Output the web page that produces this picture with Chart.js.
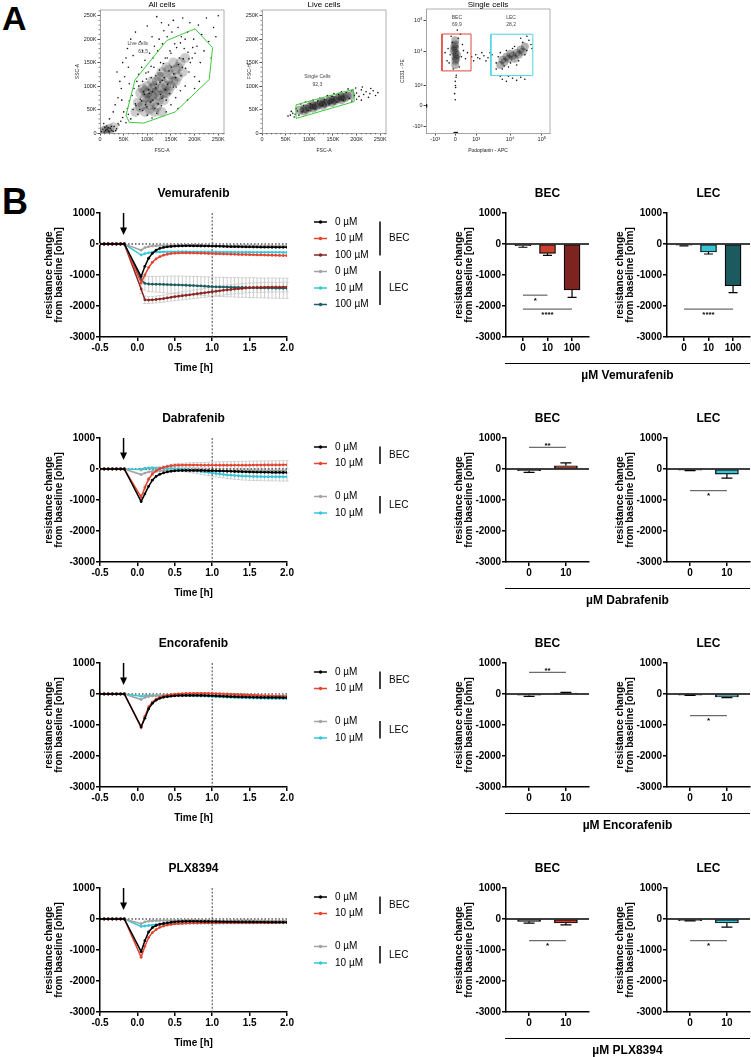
<!DOCTYPE html>
<html><head><meta charset="utf-8">
<script src="https://cdn.jsdelivr.net/npm/chart.js@4.4.1/dist/chart.umd.min.js"></script>
<style>
html,body{margin:0;padding:0;background:#fff;}
#root{position:relative;width:751px;height:1057px;overflow:hidden;background:#fff;font-family:"Liberation Sans",Arial,Helvetica,sans-serif;color:#000;}
.lbl{position:absolute;font-weight:bold;line-height:1;}
.cap{position:absolute;left:505px;width:245px;text-align:center;font-weight:bold;font-size:12px;line-height:14px;}
.capline{position:absolute;left:505px;width:245px;height:0;border-top:1.5px solid #000;}
</style></head><body><div id="root">
<div class="lbl" style="left:2px;top:1px;font-size:34px;">A</div>
<div class="lbl" style="left:2px;top:184px;font-size:36px;">B</div>
</div>
<script>
const FONT = '"Liberation Sans", Arial, Helvetica, sans-serif';

/* ================= Panel B data ================= */
const TIME = [-0.5,-0.445,-0.39,-0.335,-0.28,-0.225,-0.175,
  0.05,0.1,0.15,0.2,0.25,0.3,0.35,0.4,0.45,0.5,0.55,0.6,0.65,0.7,0.75,0.8,0.85,0.9,0.95,1.0,
  1.05,1.1,1.15,1.2,1.25,1.3,1.35,1.4,1.45,1.5,1.55,1.6,1.65,1.7,1.75,1.8,1.85,1.9,1.95,2.0];
const X_TICKS = [-0.5,0,0.5,1,1.5,2];
const Y_TICKS = [1000,0,-1000,-2000,-3000];
const ARROW_T = -0.185;
const Y_TITLE = ['resistance change','from baseline [ohm]'];
const GROUPS = ['BEC','LEC'];
const CONC_3 = ['0 µM','10 µM','100 µM'];
const CONC_2 = ['0 µM','10 µM'];

// Vemurafenib
const VEM_BEC_0 = [0,0,0,0,0,0,0,-1050,-720,-460,-300,-200,-140,-110,-90,-80,-70,-65,-62,-60,-60,-61,-62,-64,-66,-68,-70,-73,-76,-79,-82,-85,-87,-89,-91,-93,-95,-97,-99,-101,-103,-104,-105,-106,-107,-108,-108];
const VEM_BEC_10 = [0,0,0,0,0,0,0,-1250,-1000,-760,-590,-480,-410,-360,-330,-310,-300,-292,-288,-288,-290,-292,-295,-298,-302,-306,-310,-314,-318,-322,-326,-330,-333,-336,-339,-342,-345,-348,-351,-354,-357,-360,-363,-366,-369,-372,-375];
const VEM_BEC_100 = [0,0,0,0,0,0,0,-1450,-1800,-1810,-1800,-1790,-1775,-1760,-1740,-1720,-1700,-1685,-1670,-1655,-1640,-1622,-1605,-1590,-1575,-1558,-1540,-1525,-1510,-1495,-1480,-1467,-1455,-1443,-1432,-1420,-1410,-1406,-1403,-1400,-1398,-1396,-1394,-1393,-1392,-1391,-1390];
const VEM_LEC_0 = [0,0,0,0,0,0,0,-200,-120,-85,-65,-55,-50,-48,-46,-45,-45,-45,-46,-47,-48,-49,-50,-51,-52,-53,-54,-55,-56,-57,-58,-58,-59,-60,-60,-61,-61,-62,-62,-63,-63,-64,-64,-65,-65,-66,-66];
const VEM_LEC_10 = [0,0,0,0,0,0,0,-355,-310,-285,-270,-262,-258,-255,-253,-252,-251,-250,-250,-250,-251,-252,-253,-254,-255,-256,-257,-258,-259,-260,-261,-262,-263,-264,-265,-266,-266,-267,-267,-268,-268,-269,-269,-270,-270,-271,-271];
const VEM_LEC_100 = [0,0,0,0,0,0,0,-1150,-1270,-1290,-1295,-1300,-1302,-1305,-1308,-1312,-1316,-1320,-1325,-1330,-1336,-1342,-1348,-1354,-1360,-1368,-1376,-1380,-1384,-1388,-1392,-1395,-1398,-1401,-1404,-1407,-1410,-1412,-1414,-1416,-1418,-1420,-1422,-1424,-1426,-1428,-1430];
const VEM_BEC_100_SD = [10,10,10,10,10,10,10,150,120,110,110,110,115,115,120,120,125,125,130,130,135,135,140,140,145,145,150,150,150,152,152,154,154,155,155,156,156,157,157,158,158,158,158,158,158,158,158];
const VEM_LEC_100_SD = [10,10,10,10,10,10,10,150,220,240,250,255,260,265,270,275,280,285,290,290,295,295,300,300,300,305,305,305,310,310,310,310,315,315,315,315,320,320,320,320,320,325,325,325,325,325,325];

// Dabrafenib
const DAB_BEC_0 = [0,0,0,0,0,0,0,-1050,-800,-560,-360,-240,-170,-125,-95,-75,-60,-52,-48,-46,-45,-45,-46,-48,-50,-53,-56,-60,-64,-68,-72,-76,-80,-84,-88,-92,-96,-99,-102,-104,-106,-108,-110,-111,-112,-113,-114];
const DAB_BEC_10 = [0,0,0,0,0,0,0,-910,-600,-330,-160,-60,10,55,85,105,118,124,127,128,128,127,126,125,124,123,122,122,121,121,121,121,122,122,123,124,125,126,127,128,129,130,131,132,133,134,135];
const DAB_LEC_0 = [0,0,0,0,0,0,0,-180,-130,-95,-75,-65,-58,-54,-52,-50,-50,-50,-50,-51,-52,-53,-54,-55,-56,-57,-58,-59,-60,-60,-61,-61,-62,-62,-62,-61,-61,-60,-60,-59,-59,-58,-58,-57,-57,-56,-56];
const DAB_LEC_10 = [0,0,0,0,0,0,0,-20,20,30,32,30,28,25,20,15,8,0,-10,-22,-35,-50,-65,-80,-95,-112,-130,-145,-160,-175,-190,-200,-210,-218,-225,-231,-236,-240,-243,-245,-247,-248,-249,-250,-250,-251,-251];
const DAB_BEC_10_SD = [10,10,10,10,10,10,10,90,80,60,50,45,40,40,40,45,50,55,60,65,70,75,80,85,90,95,100,105,110,112,115,118,120,122,124,126,128,130,130,132,132,134,134,135,135,136,136];
const DAB_LEC_10_SD = [10,10,10,10,10,10,10,40,35,35,35,35,40,40,45,50,55,60,65,70,75,80,85,90,95,100,105,110,112,115,118,120,122,124,126,128,130,130,131,132,133,134,135,135,136,136,137];

// Encorafenib
const ENC_BEC_0 = [0,0,0,0,0,0,0,-1060,-780,-480,-300,-200,-140,-105,-85,-70,-58,-52,-48,-46,-45,-45,-46,-48,-51,-55,-60,-65,-70,-75,-80,-85,-89,-93,-97,-100,-103,-106,-108,-110,-112,-113,-114,-115,-116,-117,-118];
const ENC_BEC_10 = [0,0,0,0,0,0,0,-1080,-720,-420,-260,-165,-105,-65,-38,-18,-5,5,12,17,20,22,22,22,21,20,18,14,10,5,0,-6,-12,-18,-24,-30,-36,-42,-48,-53,-58,-63,-68,-72,-76,-80,-84];
const ENC_LEC_0 = [0,0,0,0,0,0,0,-180,-110,-80,-65,-58,-54,-52,-50,-49,-48,-47,-46,-45,-45,-45,-45,-46,-46,-47,-47,-48,-48,-49,-49,-50,-50,-51,-51,-52,-52,-53,-53,-54,-54,-55,-55,-56,-56,-57,-57];
const ENC_LEC_10 = [0,0,0,0,0,0,0,-75,-62,-55,-50,-47,-45,-44,-43,-43,-44,-45,-47,-50,-53,-57,-61,-65,-70,-75,-80,-86,-92,-97,-102,-107,-112,-116,-120,-124,-128,-131,-134,-137,-140,-142,-144,-146,-148,-149,-150];

// PLX8394
const PLX_BEC_0 = [0,0,0,0,0,0,0,-1050,-700,-420,-280,-210,-170,-145,-125,-105,-90,-82,-78,-76,-75,-75,-76,-77,-78,-80,-82,-84,-86,-88,-90,-91,-92,-93,-94,-95,-96,-97,-98,-99,-100,-101,-102,-103,-104,-105,-106];
const PLX_BEC_10 = [0,0,0,0,0,0,0,-1230,-880,-600,-440,-340,-270,-225,-195,-175,-160,-150,-143,-138,-134,-131,-129,-128,-127,-126,-125,-125,-124,-124,-123,-123,-122,-122,-121,-121,-120,-120,-119,-119,-118,-118,-117,-117,-116,-116,-115];
const PLX_LEC_0 = [0,0,0,0,0,0,0,-150,-95,-70,-60,-55,-52,-50,-49,-48,-48,-48,-48,-49,-49,-50,-50,-51,-51,-52,-52,-53,-53,-54,-54,-55,-55,-56,-56,-57,-57,-58,-58,-59,-59,-60,-60,-61,-61,-62,-62];
const PLX_LEC_10 = [0,0,0,0,0,0,0,-240,-225,-210,-195,-180,-168,-158,-150,-145,-141,-138,-136,-134,-133,-132,-132,-131,-131,-130,-130,-130,-129,-129,-128,-128,-127,-127,-126,-126,-125,-125,-124,-124,-123,-123,-122,-122,-121,-121,-120];

// Bar charts (mean, SD)
const CATS_3 = ['0','10','100'];
const CATS_2 = ['0','10'];
const VEM_BEC_BAR = [-55,-300,-1485], VEM_BEC_ERR = [50,65,235];
const VEM_LEC_BAR = [-40,-258,-1345], VEM_LEC_ERR = [22,64,225];
const DAB_BEC_BAR = [-55,105], DAB_BEC_ERR = [55,90];
const DAB_LEC_BAR = [-40,-165], DAB_LEC_ERR = [12,130];
const ENC_BEC_BAR = [-40,30], ENC_BEC_ERR = [35,25];
const ENC_LEC_BAR = [-35,-95], ENC_LEC_ERR = [12,25];
const PLX_BEC_BAR = [-75,-130], PLX_BEC_ERR = [55,60];
const PLX_LEC_BAR = [-50,-130], PLX_LEC_ERR = [10,130];
const VEM_BEC_SIG = [{a:0,b:1,y:-1650,t:'*',pos:'below'},{a:0,b:2,y:-2100,t:'****',pos:'below'}];
const VEM_LEC_SIG = [{a:0,b:2,y:-2100,t:'****',pos:'below'}];
const DAB_BEC_SIG = [{a:0,b:1,y:700,t:'**',pos:'above'}];
const DAB_LEC_SIG = [{a:0,b:1,y:-700,t:'*',pos:'below'}];
const ENC_BEC_SIG = [{a:0,b:1,y:700,t:'**',pos:'above'}];
const ENC_LEC_SIG = [{a:0,b:1,y:-700,t:'*',pos:'below'}];
const PLX_BEC_SIG = [{a:0,b:1,y:-700,t:'*',pos:'below'}];
const PLX_LEC_SIG = [{a:0,b:1,y:-700,t:'*',pos:'below'}];

const LINE_COLORS = {BEC:['#000000','#e5432f','#8a2622'], LEC:['#a3a3a3','#35c6da','#1d5d62']};
const BAR_FILL = {BEC:['#454545','#c9412e','#7d2420'], LEC:['#9e9e9e','#38c2d3','#1b5a5f']};

const ROWS = [
  {title:'Vemurafenib', caption:'µM Vemurafenib', labels:CONC_3, cats:CATS_3,
   series:{BEC:[VEM_BEC_0,VEM_BEC_10,VEM_BEC_100], LEC:[VEM_LEC_0,VEM_LEC_10,VEM_LEC_100]},
   sd:{BEC:[null,null,VEM_BEC_100_SD], LEC:[null,null,VEM_LEC_100_SD]},
   bars:{BEC:[VEM_BEC_BAR,VEM_BEC_ERR,VEM_BEC_SIG], LEC:[VEM_LEC_BAR,VEM_LEC_ERR,VEM_LEC_SIG]}},
  {title:'Dabrafenib', caption:'µM Dabrafenib', labels:CONC_2, cats:CATS_2,
   series:{BEC:[DAB_BEC_0,DAB_BEC_10], LEC:[DAB_LEC_0,DAB_LEC_10]},
   sd:{BEC:[null,DAB_BEC_10_SD], LEC:[null,DAB_LEC_10_SD]},
   bars:{BEC:[DAB_BEC_BAR,DAB_BEC_ERR,DAB_BEC_SIG], LEC:[DAB_LEC_BAR,DAB_LEC_ERR,DAB_LEC_SIG]}},
  {title:'Encorafenib', caption:'µM Encorafenib', labels:CONC_2, cats:CATS_2,
   series:{BEC:[ENC_BEC_0,ENC_BEC_10], LEC:[ENC_LEC_0,ENC_LEC_10]},
   sd:{BEC:[null,null], LEC:[null,null]},
   bars:{BEC:[ENC_BEC_BAR,ENC_BEC_ERR,ENC_BEC_SIG], LEC:[ENC_LEC_BAR,ENC_LEC_ERR,ENC_LEC_SIG]}},
  {title:'PLX8394', caption:'µM PLX8394', labels:CONC_2, cats:CATS_2,
   series:{BEC:[PLX_BEC_0,PLX_BEC_10], LEC:[PLX_LEC_0,PLX_LEC_10]},
   sd:{BEC:[null,null], LEC:[null,null]},
   bars:{BEC:[PLX_BEC_BAR,PLX_BEC_ERR,PLX_BEC_SIG], LEC:[PLX_LEC_BAR,PLX_LEC_ERR,PLX_LEC_SIG]}}
];

/* ================= Panel A data (flow cytometry) ================= */
const LIN_TICKS = [0,50,100,150,200,250];
const LIN_LABELS = ['0','50K','100K','150K','200K','250K'];
const BIEX_X_TICKS = [-0.98,0,1.02,2.68,4.23];
const BIEX_Y_TICKS = [-1.02,0,1.02,2.65,4.16];
const BIEX_LABELS = ['-10³','0','10³','10⁴','10⁵'];

const FLOW1_EVENTS = [[3,3],[6,8],[9,2],[10,12],[12,5],[14,15],[15,8],[17,11],[18,4],[20,2],[22,10],[24,14],[25,6],[28,3],[30,14],[33,5],[35,9],[38,20],[40,17],[44,25],[48,33],[50,45],[55,22],[58,52],[60,40],[62,68],[65,30],[68,80],[70,50],[72,95],[75,62],[78,110],[80,40],[82,125],[85,72],[88,140],[90,48],[92,88],[95,155],[98,115],[100,38],[102,130],[105,170],[108,142],[110,32],[112,160],[115,185],[118,122],[120,42],[122,175],[125,200],[128,150],[130,58],[132,190],[135,218],[138,160],[140,45],[142,205],[145,230],[148,175],[150,60],[152,215],[155,240],[158,190],[160,75],[165,225],[168,160],[170,90],[172,205],[175,245],[178,180],[180,100],[185,215],[188,130],[190,235],[195,160],[198,200],[200,120],[205,185],[208,230],[212,150],[215,210],[220,175],[225,245],[230,195],[235,160],[240,225],[245,205],[250,250],[52,120],[45,95],[38,75],[32,60],[60,140],[48,150],[70,165],[58,180],[85,195],[75,215],[100,228],[120,248],[165,52],[185,70],[200,95],[210,110],[140,70],[155,98],[128,82],[112,70],[96,60],[132,112],[146,132],[118,96],[104,84],[160,118],[174,140],[188,158],
  [76,58],[84,50],[88,68],[94,82],[99,56],[103,92],[107,66],[111,88],[116,52],[119,104],[123,62],[127,108],[131,74],[136,118],[139,92],[143,104],[147,84],[151,140],[156,126],[161,98],[166,146],[171,122],[176,158],[181,138],[186,172],[191,150],[196,182],[201,170],[82,100],[90,110],[97,128],[108,118],[114,140],[126,134],[134,148],[142,160],[150,170],[162,182],[170,192],[180,200],
  [42,110],[36,130],[55,160],[65,200],[90,175],[110,205],[130,235],[62,105],[46,70],[28,45],[20,30],[8,20]];
const FLOW1_DENSE = [[100,70],[110,80],[120,90],[105,60],[95,75],[115,65],[125,80],[130,95],[135,105],[140,100],[110,95],[100,85],[90,60],[120,110],[145,115],[150,125],[130,120],[160,135],[115,100],[85,55],[125,70],[140,85],[155,110],[170,150],[165,140],[105,50],
  [75,45],[80,65],[85,85],[90,95],[95,45],[100,100],[110,110],[115,45],[120,55],[125,120],[130,130],[135,70],[140,140],[145,90],[150,100],[155,150],[160,110],[165,120],[175,130],[180,160],[145,135],[135,85],[95,90],[130,45],[115,85],[105,75],
  [12,6],[20,9],[8,4],[28,12],[16,3]];
const FLOW1_GATE = [[62,23],[92,21],[159,45],[231,114],[238,182],[201,222],[141,197],[74,113],[55,38],[62,23]];

const FLOW2_EVENTS = [[60,38],[65,42],[70,40],[55,36],[75,47],[72,52],[85,45],[88,58],[98,48],[102,62],[112,52],[118,68],[128,58],[132,72],[142,62],[148,78],[158,66],[162,82],[172,70],[178,86],[185,74],[190,90],[195,80],[200,85],[205,78],[210,92],[215,82],[220,88],[228,84],[235,90],[240,80],[200,72],[190,68],[210,70],[225,76],[68,34],[78,38],[62,46],[82,62],[92,66],[108,70],[122,74],[138,80],[152,84],[168,88],[182,94],[198,96],[212,98],[230,95],[245,86]];
const FLOW2_DENSE = [[80,49],[90,52],[100,55],[110,58],[120,61],[130,64],[140,67],[150,70],[160,73],[170,76],[180,79],[95,50],[115,57],[135,63],[155,69],[175,75],[105,60],[125,66],[145,72],[165,78],[88,47],[108,53],[128,59],[148,65],[168,71],[188,80]];
const FLOW2_GATE = [[72,60],[193,93],[195,67],[72,31],[72,60]];

const FLOW3_EVENTS = [[-0.3,2.1],[0.3,2.4],[-0.35,2.8],[0.35,3.0],[-0.2,3.4],[0.25,3.5],[0.1,3.7],[-0.1,1.8],[0.2,1.9],[-0.25,2.5],[0.4,2.7],[-0.4,2.2],[0.15,3.3],[-0.15,3.1],[0.5,2.3],[0.6,2.6],[-0.5,2.6],[0.05,1.5],[0,1.2],[0.02,0.9],[-0.03,0.6],[0,0.3],[0.01,1.0],[0.04,1.4],
  [0.8,2.4],[1.0,2.5],[1.2,2.3],[1.4,2.45],[1.6,2.35],[1.8,2.5],[0.9,2.2],[1.3,2.6],[1.5,2.2],[1.7,2.6],[1.1,2.35],
  [2.0,1.8],[2.1,2.4],[2.3,1.8],[2.5,2.7],[2.7,2.1],[2.9,2.9],[3.1,2.2],[3.3,3.1],[3.5,2.7],[3.6,3.2],[3.7,3.0],[2.0,2.1],[2.6,1.9],[3.0,2.0],[3.4,2.5],[2.2,2.6],[2.8,2.8],[3.2,3.3],[3.5,3.4],[2.4,1.95],[3.75,2.8],
  [2.3,1.3],[2.5,1.2],[2.8,1.35],[3.0,1.25],[3.2,1.4],[2.6,1.45],[3.4,1.3],[2.2,1.45],
  [0,-1.3],[0.05,-1.3],[-0.05,-1.3],[0.1,-1.3],[-1.4,0],[-1.4,0.05],[-1.4,-0.05]];
const FLOW3_DENSE = [[0,2.0],[0,2.2],[0,2.4],[0,2.6],[0,2.8],[0,3.0],[0,3.2],[0.08,2.5],[-0.08,2.7],[0.05,2.3],[-0.05,2.9],
  [2.2,2.0],[2.4,2.15],[2.6,2.3],[2.8,2.45],[3.0,2.6],[3.2,2.75],[3.4,2.9],[2.5,2.4],[2.9,2.3],[2.7,2.55],[3.1,2.5],[2.3,2.25],[3.3,2.65]];
const FLOW3_BEC_GATE = [[-0.65,1.71],[0.77,1.71],[0.77,3.51],[-0.65,3.51],[-0.65,1.71]];
const FLOW3_LEC_GATE = [[1.74,1.48],[3.79,1.48],[3.79,3.5],[1.74,3.5],[1.74,1.48]];

/* ================= helpers ================= */
const root = document.getElementById('root');
function makeCanvas(x, y, w, h) {
  const c = document.createElement('canvas');
  c.width = w; c.height = h;
  c.style.cssText = `position:absolute;left:${x}px;top:${y}px;width:${w}px;height:${h}px;`;
  root.appendChild(c);
  return c;
}
function yTitle(ctx, xs, cy) {
  ctx.save();
  ctx.font = `bold 10px ${FONT}`; ctx.fillStyle = '#000'; ctx.textAlign = 'center'; ctx.textBaseline = 'middle';
  Y_TITLE.forEach((t, i) => { ctx.save(); ctx.translate(xs[i], cy); ctx.rotate(-Math.PI/2); ctx.fillText(t, 0, 0); ctx.restore(); });
  ctx.restore();
}
function valueY(wid) {
  return {type:'linear', min:-3000, max:1000,
    afterBuildTicks: s => { s.ticks = Y_TICKS.map(v => ({value:v})); },
    afterFit: s => { s.width = wid; },
    border:{display:true, color:'#000', width:1.5},
    grid:{drawOnChartArea:false, tickLength:4, color:'#000', lineWidth:1.5},
    ticks:{color:'#000', font:{family:FONT, size:10, weight:'bold'}, padding:1, callback: v => String(v)}};
}

/* ================= line charts ================= */
function lineChart(k, row) {
  const T0 = 180 + 225*k, W = 420, H = 200;
  const cv = makeCanvas(0, T0, W, H);
  const top = 213 + 225*k - T0, bottom = 337 + 225*k - T0;
  const datasets = [];
  GROUPS.forEach(g => row.series[g].forEach((vals, i) => {
    datasets.push({label:row.labels[i], group:g,
      data: TIME.map((t, j) => ({x:t, y:vals[j]})),
      sd: row.sd[g][i],
      borderColor:LINE_COLORS[g][i], backgroundColor:LINE_COLORS[g][i], pointBackgroundColor:LINE_COLORS[g][i],
      pointBorderWidth:0, borderWidth:1.5, pointRadius:1.4, tension:0});
  }));
  const decor = {
    id:'lineDecor',
    beforeDatasetsDraw(chart) {
      const {ctx, chartArea:a, scales:{x, y}} = chart;
      ctx.save();
      ctx.strokeStyle = '#cdcdcd'; ctx.lineWidth = 1;
      chart.data.datasets.forEach(ds => {
        if (!ds.sd) return;
        ds.data.forEach((p, i) => {
          const s = ds.sd[i]; if (!s) return;
          const px = x.getPixelForValue(p.x), y1 = y.getPixelForValue(p.y + s), y2 = y.getPixelForValue(p.y - s);
          ctx.beginPath(); ctx.moveTo(px, y1); ctx.lineTo(px, y2);
          ctx.moveTo(px-1.6, y1); ctx.lineTo(px+1.6, y1); ctx.moveTo(px-1.6, y2); ctx.lineTo(px+1.6, y2); ctx.stroke();
        });
      });
      const y0 = y.getPixelForValue(0);
      ctx.setLineDash([1.5, 2]); ctx.strokeStyle = '#000'; ctx.lineWidth = 1.2;
      ctx.beginPath(); ctx.moveTo(a.left, y0); ctx.lineTo(a.right, y0); ctx.stroke();
      const x1 = x.getPixelForValue(1);
      ctx.setLineDash([2, 1.6]); ctx.strokeStyle = '#444'; ctx.lineWidth = 1;
      ctx.beginPath(); ctx.moveTo(x1, a.top); ctx.lineTo(x1, a.bottom); ctx.stroke();
      ctx.restore();
    },
    afterDraw(chart) {
      const {ctx, chartArea:a, scales:{x, y}} = chart;
      ctx.save();
      ctx.fillStyle = '#000'; ctx.textAlign = 'center'; ctx.textBaseline = 'middle';
      ctx.font = `bold 12px ${FONT}`;
      ctx.fillText(row.title, (a.left + a.right)/2, 193.3 + 225*k - T0);
      ctx.font = `bold 10px ${FONT}`;
      ctx.fillText('Time [h]', (a.left + a.right)/2, 368.5 + 225*k - T0);
      const ax = x.getPixelForValue(ARROW_T), at = y.getPixelForValue(1000), tip = y.getPixelForValue(290);
      ctx.strokeStyle = '#000'; ctx.lineWidth = 1.5;
      ctx.beginPath(); ctx.moveTo(ax, at); ctx.lineTo(ax, tip - 5); ctx.stroke();
      ctx.beginPath(); ctx.moveTo(ax - 3.5, tip - 7.5); ctx.lineTo(ax + 3.5, tip - 7.5); ctx.lineTo(ax, tip); ctx.closePath(); ctx.fill();
      const base = 222 + 225*k - T0;
      GROUPS.forEach((g, gi) => {
        const list = chart.data.datasets.filter(d => d.group === g);
        const ys = list.map((d, i) => base + gi*49.5 + i*16.5);
        list.forEach((d, i) => {
          ctx.strokeStyle = d.borderColor; ctx.lineWidth = 1.5;
          ctx.beginPath(); ctx.moveTo(314, ys[i]); ctx.lineTo(327, ys[i]); ctx.stroke();
          ctx.fillStyle = d.borderColor; ctx.beginPath(); ctx.arc(320.5, ys[i], 1.7, 0, 2*Math.PI); ctx.fill();
          ctx.fillStyle = '#000'; ctx.font = `10px ${FONT}`; ctx.textAlign = 'left'; ctx.textBaseline = 'middle';
          ctx.fillText(d.label, 335, ys[i]);
        });
        ctx.strokeStyle = '#000'; ctx.lineWidth = 1.5;
        ctx.beginPath(); ctx.moveTo(380, ys[0] - 0.5); ctx.lineTo(380, ys[ys.length-1] + 0.5); ctx.stroke();
        ctx.fillText(g, 389, (ys[0] + ys[ys.length-1])/2);
      });
      ctx.restore();
      yTitle(ctx, [49, 59], (a.top + a.bottom)/2);
    }
  };
  new Chart(cv, {
    type:'line',
    data:{datasets},
    options:{responsive:false, animation:false, events:[],
      layout:{padding:{top:top, right:W - 287, left:0, bottom:0}},
      plugins:{legend:{display:false}, tooltip:{enabled:false}},
      scales:{
        x:{type:'linear', min:-0.5, max:2.0,
          afterBuildTicks: s => { s.ticks = X_TICKS.map(v => ({value:v})); },
          afterFit: s => { s.height = H - bottom; },
          border:{display:true, color:'#000', width:1.5},
          grid:{drawOnChartArea:false, tickLength:4, color:'#000', lineWidth:1.5},
          ticks:{color:'#000', font:{family:FONT, size:10, weight:'bold'}, padding:1, maxRotation:0, autoSkip:false, callback: v => Number(v).toFixed(1)}},
        y: valueY(100)
      }},
    plugins:[decor]
  });
}

/* ================= bar charts ================= */
const BAR_LAYOUT = {3:{min:-0.69, max:2.69, thick:16, cap:4.5}, 2:{min:-0.627, max:1.627, thick:23, cap:5.5}};
function barChart(k, row, g) {
  const T0 = 180 + 225*k, H = 200;
  const x0 = g === 'BEC' ? 420 : 581, W = g === 'BEC' ? 175 : 170;
  const axisX = g === 'BEC' ? 506 : 667, right = g === 'BEC' ? 589 : 750;
  const cv = makeCanvas(x0, T0, W, H);
  const top = 213 + 225*k - T0, bottom = 337 + 225*k - T0;
  const [vals, errs, sig] = row.bars[g];
  const cats = row.cats, L = BAR_LAYOUT[cats.length];
  const decor = {
    id:'barDecor',
    afterDatasetsDraw(chart) {
      const {ctx, chartArea:a, scales:{x, y}} = chart;
      ctx.save(); ctx.strokeStyle = '#000'; ctx.lineWidth = 1.2;
      chart.data.datasets[0].data.forEach((p, i) => {
        const dir = p.y >= 0 ? 1 : -1;
        const px = x.getPixelForValue(p.x), y1 = y.getPixelForValue(p.y), y2 = y.getPixelForValue(p.y + dir*errs[i]);
        ctx.beginPath(); ctx.moveTo(px, y1); ctx.lineTo(px, y2); ctx.moveTo(px - L.cap, y2); ctx.lineTo(px + L.cap, y2); ctx.stroke();
      });
      const y0 = y.getPixelForValue(0);
      ctx.lineWidth = 1.5; ctx.beginPath(); ctx.moveTo(a.left, y0); ctx.lineTo(a.right, y0); ctx.stroke();
      ctx.restore();
    },
    afterDraw(chart) {
      const {ctx, chartArea:a, scales:{x, y}} = chart;
      ctx.save();
      ctx.fillStyle = '#000'; ctx.textAlign = 'center'; ctx.textBaseline = 'middle';
      ctx.font = `bold 12px ${FONT}`;
      ctx.fillText(g, (a.left + a.right)/2, 193.3 + 225*k - T0);
      sig.forEach(s => {
        const xa = x.getPixelForValue(s.a), xb = x.getPixelForValue(s.b), yy = y.getPixelForValue(s.y);
        ctx.strokeStyle = '#333'; ctx.lineWidth = 0.9;
        ctx.beginPath(); ctx.moveTo(xa, yy); ctx.lineTo(xb, yy); ctx.stroke();
        ctx.font = `bold 8px ${FONT}`;
        if (s.pos === 'below') { ctx.textBaseline = 'top'; ctx.fillText(s.t, (xa + xb)/2, yy + 1.5); }
        else { ctx.textBaseline = 'alphabetic'; ctx.fillText(s.t, (xa + xb)/2, yy + 1); }
      });
      ctx.restore();
      yTitle(ctx, [39.5, 49], (a.top + a.bottom)/2);
    }
  };
  new Chart(cv, {
    type:'bar',
    data:{datasets:[{data: vals.map((v, i) => ({x:i, y:v})),
      backgroundColor: BAR_FILL[g].slice(0, vals.length), borderColor:'#000', borderWidth:1.2,
      borderSkipped:false, barThickness:L.thick}]},
    options:{responsive:false, animation:false, events:[],
      layout:{padding:{top:top, right:(x0 + W) - right, left:0, bottom:0}},
      plugins:{legend:{display:false}, tooltip:{enabled:false}},
      scales:{
        x:{type:'linear', min:L.min, max:L.max, offset:false,
          afterBuildTicks: s => { s.ticks = cats.map((c, i) => ({value:i})); },
          afterFit: s => { s.height = H - bottom; },
          border:{display:true, color:'#000', width:1.5},
          grid:{drawOnChartArea:false, offset:false, tickLength:4, color:'#000', lineWidth:1.5},
          ticks:{color:'#000', font:{family:FONT, size:10, weight:'bold'}, padding:1, maxRotation:0, autoSkip:false, callback: v => cats[Math.round(v)]}},
        y: valueY(axisX - x0)
      }},
    plugins:[decor]
  });
  if (g === 'LEC') {
    const ln = document.createElement('div'); ln.className = 'capline'; ln.style.top = (362.5 + 225*k) + 'px'; root.appendChild(ln);
    const cp = document.createElement('div'); cp.className = 'cap'; cp.style.top = (368 + 225*k) + 'px'; cp.textContent = row.caption; root.appendChild(cp);
  }
}

/* ================= flow plots ================= */
function flowChart(o) {
  const H = 160;
  const cv = makeCanvas(o.cx, 0, o.w, H);
  const decor = {
    id:'flowDecor',
    afterDraw(chart) {
      const {ctx, chartArea:a, scales:{x, y}} = chart;
      ctx.save();
      ctx.strokeStyle = '#9a9a9a'; ctx.lineWidth = 0.8;
      ctx.beginPath(); ctx.moveTo(a.left, a.top); ctx.lineTo(a.right, a.top); ctx.lineTo(a.right, a.bottom); ctx.stroke();
      if (o.minor) {
        ctx.strokeStyle = '#333'; ctx.lineWidth = 0.6;
        for (let v = 10; v < 262; v += 10) {
          if (v % 50 === 0) continue;
          const px = x.getPixelForValue(v), py = y.getPixelForValue(v);
          ctx.beginPath(); ctx.moveTo(px, a.bottom); ctx.lineTo(px, a.bottom + 1.5); ctx.stroke();
          ctx.beginPath(); ctx.moveTo(a.left, py); ctx.lineTo(a.left - 1.5, py); ctx.stroke();
        }
      }
      ctx.fillStyle = '#000'; ctx.textAlign = 'center'; ctx.textBaseline = 'middle';
      ctx.font = `8px ${FONT}`;
      ctx.fillText(o.title, (a.left + a.right)/2, 4.5);
      ctx.font = `5px ${FONT}`; ctx.fillStyle = '#222';
      ctx.fillText(o.xlab, (a.left + a.right)/2, 151);
      ctx.save(); ctx.translate(o.ylabX, (a.top + a.bottom)/2); ctx.rotate(-Math.PI/2); ctx.fillText(o.ylab, 0, 0); ctx.restore();
      ctx.fillStyle = '#444'; ctx.font = `5px ${FONT}`;
      o.texts.forEach(t => ctx.fillText(t[0], x.getPixelForValue(t[1]), y.getPixelForValue(t[2])));
      ctx.restore();
    }
  };
  const axis = (ticks, labels, fitFn) => ({type:'linear',
    afterBuildTicks: s => { s.ticks = ticks.map(v => ({value:v})); },
    afterFit: fitFn,
    border:{display:true, color:'#8c8c8c', width:0.8},
    grid:{drawOnChartArea:false, tickLength:2.5, color:'#222', lineWidth:0.8},
    ticks:{color:'#222', font:{family:FONT, size:5.5}, padding:1, maxRotation:0, autoSkip:false, callback:(v, i) => labels[i]}});
  const xs = axis(o.xt, o.xl, s => { s.height = H - o.aB; }); xs.min = o.xmin; xs.max = o.xmax;
  const ys = axis(o.yt, o.yl, s => { s.width = o.aL - o.cx; }); ys.min = o.ymin; ys.max = o.ymax;
  new Chart(cv, {
    type:'scatter',
    data:{datasets:[
      ...o.gates.map(gt => ({type:'line', data: gt[0].map(p => ({x:p[0], y:p[1]})), borderColor: gt[1], borderWidth:1, pointRadius:0, fill:false, tension:0, showLine:true, order:0})),
      {data: o.events.map(p => ({x:p[0], y:p[1]})), pointRadius:0.8, pointBackgroundColor:'#111', pointBorderWidth:0, order:1},
      {data: o.dense.map(p => ({x:p[0], y:p[1]})), pointRadius:o.denseR, pointBackgroundColor:o.denseC, pointBorderWidth:0, order:2}
    ]},
    options:{responsive:false, animation:false, events:[],
      layout:{padding:{top:o.aT, right:(o.cx + o.w) - o.aR, left:0, bottom:0}},
      plugins:{legend:{display:false}, tooltip:{enabled:false}},
      scales:{x:xs, y:ys}},
    plugins:[decor]
  });
}

flowChart({cx:60, w:170, aL:100, aR:224, aT:10, aB:133, xmin:0, xmax:262.144, ymin:0, ymax:262.144,
  xt:LIN_TICKS, xl:LIN_LABELS, yt:LIN_TICKS, yl:LIN_LABELS, minor:true,
  events:FLOW1_EVENTS, dense:FLOW1_DENSE, denseR:5, denseC:'rgba(0,0,0,0.2)', gates:[[FLOW1_GATE,'#3cc83c']],
  title:'All cells', xlab:'FSC-A', ylab:'SSC-A', ylabX:17.5, texts:[['Live cells',80,190],['61,5',91,173]]});
flowChart({cx:222, w:170, aL:262, aR:386, aT:10, aB:133, xmin:0, xmax:262.144, ymin:0, ymax:262.144,
  xt:LIN_TICKS, xl:LIN_LABELS, yt:LIN_TICKS, yl:LIN_LABELS, minor:true,
  events:FLOW2_EVENTS, dense:FLOW2_DENSE, denseR:4.5, denseC:'rgba(0,0,0,0.3)', gates:[[FLOW2_GATE,'#3cc83c']],
  title:'Live cells', xlab:'FSC-A', ylab:'FSC-H', ylabX:28, texts:[['Single Cells',117,120],['92,3',117,104]]});
flowChart({cx:385, w:170, aL:426, aR:550, aT:9, aB:133, xmin:-1.43, xmax:4.63, ymin:-1.32, ymax:4.73,
  xt:BIEX_X_TICKS, xl:BIEX_LABELS, yt:BIEX_Y_TICKS, yl:BIEX_LABELS, minor:false,
  events:FLOW3_EVENTS, dense:FLOW3_DENSE, denseR:4, denseC:'rgba(0,0,0,0.3)', gates:[[FLOW3_BEC_GATE,'#e0483a'],[FLOW3_LEC_GATE,'#4fd4e4']],
  title:'Single cells', xlab:'Podoplanin - APC', ylab:'CD31 - PE', ylabX:18, texts:[['BEC',0.08,4.33],['69,9',0.08,3.95],['LEC',2.73,4.33],['28,2',2.73,3.95]]});

ROWS.forEach((row, k) => { lineChart(k, row); barChart(k, row, 'BEC'); barChart(k, row, 'LEC'); });

ROWS.forEach(r => GROUPS.forEach(g => r.series[g].forEach((s, i) => { if (s.length !== TIME.length) console.error('length mismatch', r.title, g, i, s.length); })));
</script></body></html>
